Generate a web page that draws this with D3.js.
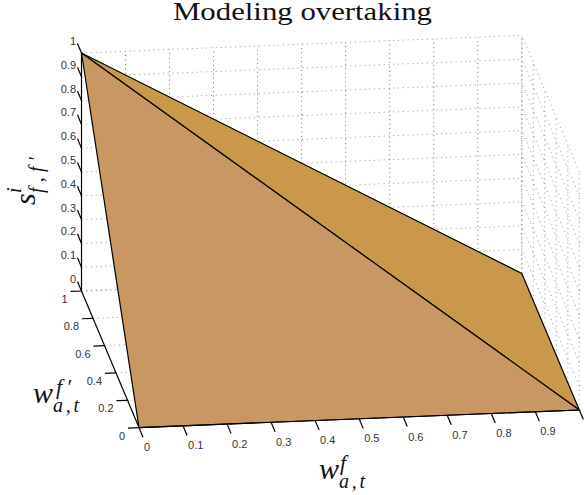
<!DOCTYPE html>
<html><head><meta charset="utf-8"><style>html,body{margin:0;padding:0;background:#fff}svg{display:block}</style>
<script src="https://cdn.jsdelivr.net/npm/d3@7"></script></head><body><svg id="c" width="584" height="495"></svg>
<script>
const xTicks=[0,0.1,0.2,0.3,0.4,0.5,0.6,0.7,0.8,0.9,1];
const xTickLabels=["0","0.1","0.2","0.3","0.4","0.5","0.6","0.7","0.8","0.9",""];
const yTicks=[0,0.2,0.4,0.6,0.8,1];
const yTickLabels=["0","0.2","0.4","0.6","0.8","1"];
const zTicks=[0,0.1,0.2,0.3,0.4,0.5,0.6,0.7,0.8,0.9,1];
const zTickLabels=["0","0.1","0.2","0.3","0.4","0.5","0.6","0.7","0.8","0.9","1"];
const frontFacet=[[0,1,1],[0,0,0],[1,0,0]];
const backFacet=[[0,1,1],[1,0,0],[1,1,0]];
const frontColor="#c99764", backColor="#c9984b";

const sx=d3.scaleLinear().domain([0,1]).range([[139,427.6],[579.3,410]]);
const sy=d3.scaleLinear().domain([0,1]).range([[0,0],[-57.5,-136.6]]);
const sz=d3.scaleLinear().domain([0,1]).range([0,-238]);
const P=(x,y,z)=>{const a=sx(x),b=sy(y);return [a[0]+b[0],a[1]+b[1]+sz(z)];};
const svg=d3.select("#c");
const line=d3.line();
function seg(g,a,b,cls){g.append("path").attr("d",line([P(...a),P(...b)])).attr("class",cls);}
const style=document.createElement("style");
style.textContent=`.g{fill:none;stroke:#444;stroke-width:.8;stroke-dasharray:1 3.4}
.gl{fill:none;stroke:#777;stroke-width:.8;stroke-dasharray:1 3.8}
.a{fill:none;stroke:#000;stroke-width:1.2}
.t{font:11px "Liberation Sans",Arial,sans-serif;fill:#333;dominant-baseline:central}
.m{font-family:"Liberation Serif",serif;font-style:italic;fill:#111}`;
document.head.appendChild(style);

const grid=svg.append("g");
xTicks.forEach(x=>seg(grid,[x,1,0],[x,1,1],"g"));
zTicks.forEach(z=>seg(grid,[0,1,z],[1,1,z],"gl"));
yTicks.forEach(y=>seg(grid,[1,y,0],[1,y,1],"gl"));
zTicks.forEach(z=>seg(grid,[1,0,z],[1,1,z],"gl"));
yTicks.forEach(y=>seg(grid,[0,y,0],[1,y,0],"gl"));

const surf=svg.append("g");
[[backFacet,backColor],[frontFacet,frontColor]].forEach(([f,c])=>{
  surf.append("path").attr("d",line(f.map(p=>P(...p)))+"Z").attr("fill",c).attr("stroke","#000").attr("stroke-width",1.2).attr("stroke-linejoin","miter");
});

const ax=svg.append("g");
seg(ax,[0,1,0],[0,1,1],"a");
seg(ax,[0,0,0],[0,1,0],"a");
seg(ax,[0,0,0],[1,0,0],"a");
xTicks.forEach((x,i)=>{
  const a=P(x,0,0),b=P(x,-0.07,0);
  ax.append("path").attr("d",line([a,b])).attr("class","a");
  if(xTickLabels[i]) ax.append("text").attr("class","t").attr("x",a[0]+5).attr("y",a[1]+19.5).text(xTickLabels[i]);
});
yTicks.forEach((y,i)=>{
  const a=P(0,y,0),b=P(-0.025,y,0);
  ax.append("path").attr("d",line([a,b])).attr("class","a");
  ax.append("text").attr("class","t").attr("text-anchor","end").attr("x",a[0]-14).attr("y",a[1]+8).text(yTickLabels[i]);
});
zTicks.forEach((z,i)=>{
  const a=P(0,1,z),b=P(0,1.07,z);
  ax.append("path").attr("d",line([a,b])).attr("class","a");
  ax.append("text").attr("class","t").attr("text-anchor","end").attr("x",a[0]-5.5).attr("y",a[1]-12).text(zTickLabels[i]);
});

svg.append("text").attr("x",173).attr("y",19.5).attr("textLength",259).attr("lengthAdjust","spacingAndGlyphs")
 .attr("font-family","'Liberation Serif',serif").attr("font-size",26).attr("fill","#111").text("Modeling overtaking");

function t(g,x,y,fs,str,len){const e=g.append("text").attr("class","m").attr("x",x).attr("y",y).attr("font-size",fs).text(str);if(len)e.attr("textLength",len).attr("lengthAdjust","spacing");return e;}
const xl=svg.append("g").attr("transform","translate(319,479)");
t(xl,0,0,30,"w");t(xl,21,-9,22,"f");t(xl,20,8.5,20,"a,t",26);
const yl=svg.append("g").attr("transform","translate(33,403)");
t(yl,0,0,30,"w");t(yl,23,-9,22,"f\u2032",15);t(yl,20,8.5,20,"a,t",26);
const zl=svg.append("g").attr("transform","translate(35,205) rotate(-90)");
t(zl,0,0,30,"s");
t(zl,12,-14,20,"i");t(zl,12,8,20,"f,f\u2032",36);
</script></body></html>
